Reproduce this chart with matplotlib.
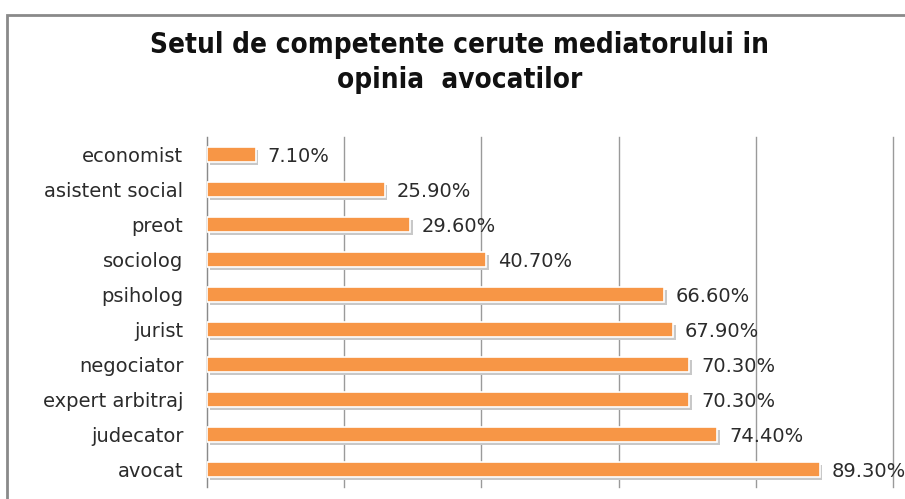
import matplotlib.pyplot as plt
from matplotlib.patches import Rectangle

# date
categorii = ['economist', 'asistent social', 'preot', 'sociolog', 'psiholog',
             'jurist', 'negociator', 'expert arbitraj', 'judecator', 'avocat']
procente = [7.1, 25.9, 29.6, 40.7, 66.6, 67.9, 70.3, 70.3, 74.4, 89.3]
etichete = ['7.10%', '25.90%', '29.60%', '40.70%', '66.60%',
            '67.90%', '70.30%', '70.30%', '74.40%', '89.30%']

fig = plt.figure(figsize=(9.05, 4.99), dpi=100)

# rama graficului
fig.patches.append(Rectangle((7 / 905, -0.1), 1.2, (499 - 14) / 499 + 0.1 - 0.002,
                             transform=fig.transFigure, fill=False,
                             edgecolor='#8a8a8a', linewidth=2))

fig.text(0.508, 0.875, 'Setul de competente cerute mediatorului in\nopinia  avocatilor',
         ha='center', va='center', fontsize=20, fontweight='bold',
         family='DejaVu Sans', fontstretch='condensed', linespacing=1.35, color='#111111')

ax = fig.add_axes([207 / 905, 12 / 499, (893 - 207) / 905, (487 - 137) / 499])
y = range(len(categorii))

# umbra barelor
ax.barh([i + 0.08 for i in y], procente, height=0.42, left=0.4,
        color='#c8c8c8', edgecolor='none', zorder=2)
ax.barh(y, procente, height=0.42, color='#f79646', edgecolor='white',
        linewidth=1.2, zorder=3)

for i, (v, t) in enumerate(zip(procente, etichete)):
    ax.text(v + 1.7, i + 0.05, t, va='center', ha='left', fontsize=14,
            color='#2b2b2b', zorder=4)

ax.set_xlim(0, 100)
ax.set_ylim(9.5, -0.5)
ax.set_yticks(list(y))
ax.set_yticklabels(categorii, fontsize=14, color='#2b2b2b')
ax.set_xticks([0, 20, 40, 60, 80, 100])
ax.tick_params(axis='x', length=0, labelbottom=False)
ax.tick_params(axis='y', length=0, pad=17)
ax.grid(axis='x', color='#9a9a9a', linewidth=1)
for gl in ax.get_xgridlines():
    gl.set_clip_on(False)
ax.set_axisbelow(True)
for s in ['top', 'right', 'bottom']:
    ax.spines[s].set_visible(False)
ax.spines['left'].set_color('#8a8a8a')

plt.savefig('out.png', dpi=100)
